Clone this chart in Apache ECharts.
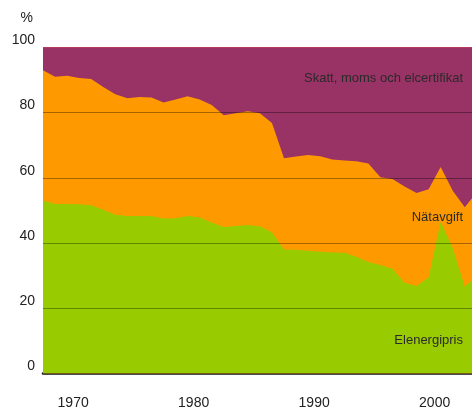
<!DOCTYPE html>
<html>
<head>
<meta charset="utf-8">
<script src="https://cdn.jsdelivr.net/npm/echarts@6/dist/echarts.min.js"></script>
<style>
  html, body { margin: 0; padding: 0; background: #fff; }
  #chart { width: 472px; height: 413px; }
</style>
</head>
<body>
<div id="chart"></div>
<script>
// år (varje värde ritas mitt på året)
const years = [
  1967, 1968, 1969, 1970, 1971, 1972, 1973, 1974, 1975, 1976,
  1977, 1978, 1979, 1980, 1981, 1982, 1983, 1984, 1985, 1986,
  1987, 1988, 1989, 1990, 1991, 1992, 1993, 1994, 1995, 1996,
  1997, 1998, 1999, 2000, 2001, 2002, 2003
];
// andelar i procent
const elenergipris = [
  53.0, 52.0, 52.0, 51.9, 51.6, 50.2, 48.7, 48.3, 48.3, 48.3,
  47.5, 47.6, 48.3, 47.8, 46.3, 44.9, 45.2, 45.5, 45.1, 43.3,
  38.0, 37.9, 37.6, 37.3, 37.1, 37.0, 35.8, 34.2, 33.3, 32.1,
  27.8, 26.8, 29.5, 46.5, 38.5, 26.6, 30.0
];
const natavgift = [
  40.0, 39.0, 39.3, 38.7, 38.7, 37.6, 36.9, 36.1, 36.5, 36.3,
  35.6, 36.4, 36.7, 36.2, 36.0, 34.3, 34.6, 34.9, 34.7, 33.5,
  28.0, 28.6, 29.4, 29.3, 28.5, 28.3, 29.3, 30.2, 26.9, 27.5,
  29.5, 28.5, 27.0, 16.8, 17.5, 24.4, 25.5
];
const skatt = [
  7.0, 9.0, 8.7, 9.4, 9.7, 12.2, 14.4, 15.6, 15.2, 15.4,
  16.9, 16.0, 15.0, 16.0, 17.7, 20.8, 20.2, 19.6, 20.2, 23.2,
  34.0, 33.5, 33.0, 33.4, 34.4, 34.7, 34.9, 35.6, 39.8, 40.4,
  42.7, 44.7, 43.5, 36.7, 44.0, 49.0, 44.5
];
const yearLabels = [1970, 1980, 1990, 2000];
const yTicks = [0, 20, 40, 60, 80, 100];

const chart = echarts.init(document.getElementById('chart'));

// staplade summor: varje yta ritas från noll upp till sin övre kant
const layers = [elenergipris, natavgift, skatt];
function cumulative(upTo) {
  return years.map((y, i) => {
    let sum = 0;
    for (let k = 0; k <= upTo; k++) sum += layers[k][i];
    return [y + 0.5, +sum.toFixed(2)];
  });
}

function areaSeries(name, data, color, z) {
  return {
    name: name,
    type: 'line',
    data: data,
    z: z,
    showSymbol: false,
    symbol: 'none',
    lineStyle: { width: 0 },
    areaStyle: { color: color, opacity: 1, origin: 'start' },
    clip: true,
    silent: true
  };
}

const labelFont = 'Liberation Sans, Arial, sans-serif';
const textStyle = { fontFamily: labelFont, fontSize: 13, fill: '#2a2a2a' };

chart.setOption({
  backgroundColor: '#fff',
  animation: false,
  grid: { left: 43, right: 0, top: 47.3, bottom: 39.5 },
  xAxis: {
    type: 'value',
    min: 1967.5,
    max: 2003.1,
    axisLine: { show: true, onZero: false, lineStyle: { color: '#111', width: 2.5 } },
    axisTick: { show: false },
    splitLine: { show: false },
    axisLabel: {
      customValues: yearLabels,
      formatter: v => String(v),
      margin: 23,
      color: '#222',
      fontSize: 14,
      fontFamily: labelFont
    }
  },
  yAxis: {
    type: 'value',
    min: 0,
    max: 100,
    interval: 20,
    z: 5,
    name: '%',
    nameLocation: 'end',
    nameGap: 22,
    nameTextStyle: {
      color: '#222',
      fontSize: 14,
      fontFamily: labelFont,
      align: 'right',
      padding: [0, 10, 0, 0]
    },
    axisLine: { show: false },
    axisTick: { show: false },
    axisLabel: {
      margin: 8,
      color: '#222',
      fontSize: 14,
      verticalAlign: 'bottom',
      fontFamily: labelFont
    },
    splitLine: {
      show: true,
      lineStyle: {
        width: 1,
        color: yTicks.map(t => t === 0 ? 'rgba(0,0,0,0)' : (t === 100 ? '#b83a5e' : 'rgba(0,0,0,0.35)'))
      }
    }
  },
  series: [
    areaSeries('Skatt, moms och elcertifikat', cumulative(2), '#993366', 2),
    areaSeries('Nätavgift', cumulative(1), '#ff9900', 3),
    areaSeries('Elenergipris', cumulative(0), '#99cc00', 4)
  ],
  graphic: [
    { type: 'text', z: 10, style: Object.assign({ text: 'Skatt, moms och elcertifikat', x: 463, y: 78, align: 'right', verticalAlign: 'middle' }, textStyle) },
    { type: 'text', z: 10, style: Object.assign({ text: 'Nätavgift', x: 463, y: 217, align: 'right', verticalAlign: 'middle' }, textStyle) },
    { type: 'text', z: 10, style: Object.assign({ text: 'Elenergipris', x: 463, y: 340, align: 'right', verticalAlign: 'middle' }, textStyle) }
  ]
});
</script>
</body>
</html>
